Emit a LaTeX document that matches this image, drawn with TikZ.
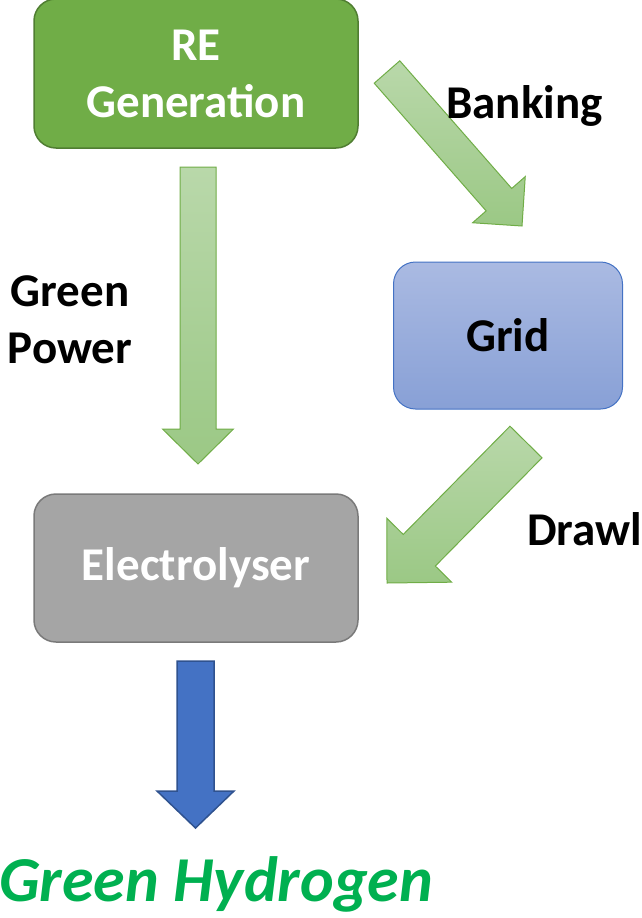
\documentclass[tikz,border=0pt]{standalone}
\usepackage{fontspec}
\setmainfont{Carlito}
\usetikzlibrary{calc}
\definecolor{regreen}{HTML}{70AD47}
\definecolor{regreenborder}{HTML}{507E32}
\definecolor{arrtop}{HTML}{B9D8AA}
\definecolor{arrbot}{HTML}{9BC885}
\definecolor{gridtop}{HTML}{AABAE2}
\definecolor{gridbot}{HTML}{88A0D6}
\definecolor{gridborder}{HTML}{4472C4}
\definecolor{elgray}{HTML}{A5A5A5}
\definecolor{elborder}{HTML}{7A7A7A}
\definecolor{h2blue}{HTML}{4472C4}
\definecolor{h2border}{HTML}{2F528F}
\definecolor{h2green}{HTML}{00B050}
\newcommand\fatarrow[6]{%
  \coordinate (hb) at ($(#2)!#5!(#1)$);
  \path[#6] ($(#1)!#3!90:(#2)$) -- ($(hb)!#3!-90:(#1)$) -- ($(hb)!#4!-90:(#1)$) -- (#2)
    -- ($(hb)!#4!90:(#1)$) -- ($(hb)!#3!90:(#1)$) -- ($(#1)!#3!-90:(#2)$) -- cycle;
}
\tikzset{
  boxbase/.style={rounded corners=22pt, align=center, font=\fontsize{47}{57}\selectfont\bfseries, inner sep=0pt},
  lbl/.style={font=\fontsize{47}{57}\selectfont\bfseries, inner sep=0pt, align=center},
  greenarrow/.style={top color=arrtop, bottom color=arrbot, draw=regreen, line width=1pt, line join=miter},
  bluearrow/.style={fill=h2blue, draw=h2border, line width=1.5pt, line join=miter},
}
\begin{document}
\begin{tikzpicture}[x=1pt, y=-1pt]
\useasboundingbox (0,0) rectangle (641,918);
% boxes
\node[boxbase, fill=regreen, draw=regreenborder, line width=1.5pt, text=white,
      minimum width=324pt, minimum height=149pt] (re) at (196,73.5) {RE\\Generation};
\node[boxbase, top color=gridtop, bottom color=gridbot, draw=gridborder, line width=1pt, text=black,
      minimum width=229pt, minimum height=147pt] (grid) at (508,335.5) {Grid};
\node[boxbase, fill=elgray, draw=elborder, line width=1.5pt, text=white,
      minimum width=324pt, minimum height=148pt] (el) at (196,568) {Electrolyser};
% arrow anchor points
\coordinate (gpT) at (198,167);
\coordinate (gpH) at (198,464);
\coordinate (bkT) at (387,72);
\coordinate (bkH) at (522,226);
\coordinate (drT) at (526,442);
\coordinate (drH) at (387,583);
\coordinate (hyT) at (195.5,661);
\coordinate (hyH) at (195.5,828);
% arrows
\fatarrow{gpT}{gpH}{18pt}{35.5pt}{35pt}{greenarrow}
\fatarrow{bkT}{bkH}{17pt}{35pt}{35pt}{greenarrow}
\fatarrow{drT}{drH}{22.5pt}{45.5pt}{46pt}{greenarrow}
\fatarrow{hyT}{hyH}{18.5pt}{38.5pt}{37pt}{bluearrow}
% labels
\node[lbl, anchor=base] (banking) at (524.5,118) {Banking};
\node[lbl] (gpower) at (70,320) {Green\\Power};
\node[lbl, anchor=base west] (drawl) at (527,545) {Drawl};
% Green Hydrogen
\node[anchor=base west, inner sep=0pt, text=h2green,
      font=\fontsize{64}{74}\selectfont\bfseries\itshape] (h2) at (-1,901) {Green Hydrogen};
\end{tikzpicture}
\end{document}
